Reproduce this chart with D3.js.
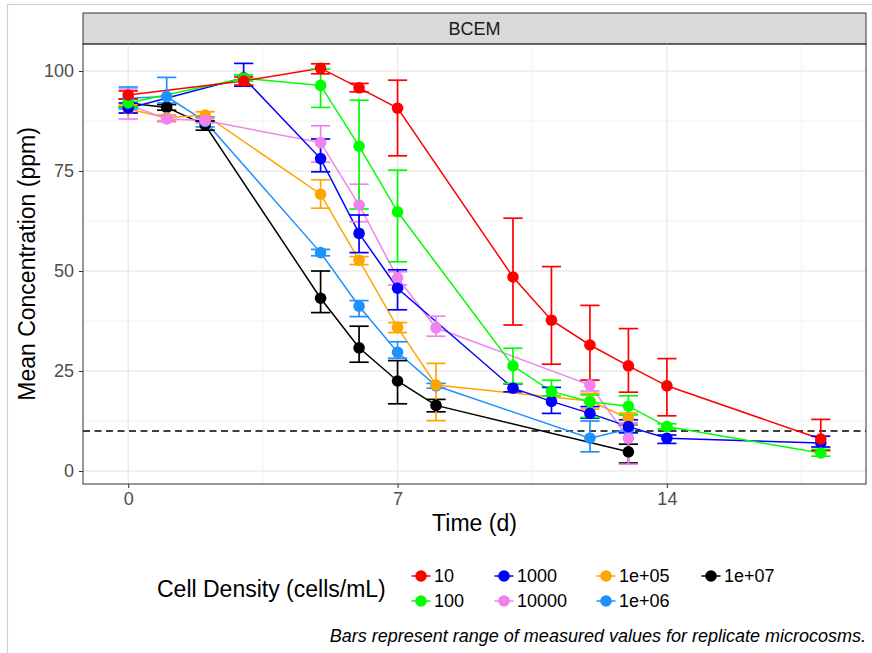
<!DOCTYPE html>
<html>
<head>
<meta charset="utf-8">
<script src="https://cdn.jsdelivr.net/npm/d3@7"></script>
<style>
body { margin: 0; background: #fff; }
svg { display: block; font-family: "Liberation Sans", Arial, sans-serif; }
</style>
</head>
<body>
<div id="chart"></div>
<script>
// legend order of the cell densities and their colours
const densities = ["10", "100", "1000", "10000", "1e+05", "1e+06", "1e+07"];
const colours = ["#ff0000", "#00ff00", "#0000ff", "#ee82ee", "#ffa500", "#1e90ff", "#000000"];

// [day, mean, min, max] for each density
const conc10 = [
    [0, 94, 93, 95], [3, 97.5, 96.5, 98.5], [5, 100.7, 99.3, 101.8], [6, 95.8, 94.8, 96.9],
    [7, 90.7, 78.8, 97.7], [10, 48.5, 36.5, 63.2], [11, 37.7, 26.7, 51.1], [12, 31.5, 22.7, 41.4],
    [13, 26.3, 19.7, 35.6], [14, 21.3, 13.8, 28.1], [18, 8.0, 5.1, 12.9]
];
const conc100 = [
    [0, 92, 91, 93], [3, 98.2, 97.5, 99], [5, 96.4, 90.9, 100.5], [6, 81.2, 65.5, 92.7],
    [7, 64.8, 52.3, 75.2], [10, 26.3, 21.9, 30.7], [11, 19.9, 18.8, 22.7], [12, 17.3, 13.4, 19],
    [13, 16.2, 14, 18.8], [14, 11.1, 10.5, 11.8], [18, 4.5, 3.7, 5.4]
];
const conc1000 = [
    [0, 90.7, 89.5, 92], [3, 98.3, 96.2, 101.9], [5, 78.1, 74.8, 83], [6, 59.4, 54.6, 64],
    [7, 45.7, 40.3, 50.3], [10, 20.7, 19.8, 21.8], [11, 17.4, 14.4, 20.9], [12, 14.4, 13.2, 16.1],
    [13, 11.1, 9.6, 12.8], [14, 8.2, 6.9, 9], [18, 7.0, 6, 8.7]
];
const conc1e4 = [
    [0, 91.6, 88, 95.5], [1, 88, 87.3, 88.8], [2, 87.6, 87, 88.2], [5, 82.1, 77.2, 86.3],
    [6, 66.5, 62.3, 71.7], [7, 48.3, 46.5, 49.8], [8, 35.8, 33.7, 38.7], [12, 21.5, 20, 22.7],
    [13, 8.2, 1.7, 12]
];
const conc1e5 = [
    [0, 90.5, 89.5, 91.5], [1, 88.3, 87.6, 89], [2, 89, 88.2, 89.8], [5, 69.2, 65.7, 72.8],
    [6, 52.7, 51.6, 53.6], [7, 35.9, 34.6, 37.1], [8, 21.5, 12.6, 26.9], [12, 17.5, 15.5, 19.4],
    [13, 13.2, 11.8, 14.5]
];
const conc1e6 = [
    [0, 93.2, 90.5, 96], [1, 93.6, 92, 98.4], [2, 87.4, 86, 88.5], [5, 54.6, 53.8, 55.4],
    [6, 41.2, 38.6, 42.6], [7, 29.7, 28.2, 32.3], [8, 21.3, 20.7, 21.9], [12, 8.2, 4.8, 12.5],
    [13, 10.5, 9.5, 11.5]
];
const conc1e7 = [
    [0, 92, 91, 93], [1, 90.9, 90.2, 91.6], [2, 86.5, 85.2, 87.5], [5, 43.2, 39.6, 50],
    [6, 30.8, 27.2, 36.2], [7, 22.5, 16.8, 27.6], [8, 16.4, 14.8, 17.9], [13, 4.8, 2, 6.7]
];

const xTicks = [0, 7, 14];
const xMinor = [3.5, 10.5, 17.5];
const yTicks = [0, 25, 50, 75, 100];
const yMinor = [12.5, 37.5, 62.5, 87.5];
const threshold = 10;
const panelTitle = "BCEM";

function drawChart() {

    var width = 872,
        height = 653,
        panel = {left: 83, right: 866, top: 44, bottom: 484},
        smallFont = 18,
        bigFont = 23;

    var series = [conc10, conc100, conc1000, conc1e4, conc1e5, conc1e6, conc1e7].map(function(values, i) {
        return {name: densities[i], colour: colours[i], values: values};
    });
    // ggplot put the later groups underneath
    var drawOrder = series.slice().reverse();

    var x = d3.scaleLinear().domain([-1.175, 19.175]).range([panel.left, panel.right]),
        y = d3.scaleLinear().domain([-3.25, 106.75]).range([panel.bottom, panel.top]);

    var svg = d3.select("#chart")
                .append("svg")
                .attr("width", width)
                .attr("height", height);

    svg.append("rect")
        .attr("width", width)
        .attr("height", height)
        .attr("fill", "#fff");

    // outer frame of the screenshot
    svg.append("rect")
        .attr("x", 7.5)
        .attr("y", 4.5)
        .attr("width", 900)
        .attr("height", 700)
        .attr("fill", "none")
        .attr("stroke", "#cfcfcf")
        .attr("stroke-width", 1.2);

    // strip
    svg.append("rect")
        .attr("x", panel.left)
        .attr("y", 13)
        .attr("width", panel.right - panel.left)
        .attr("height", panel.top - 13)
        .attr("fill", "#d9d9d9")
        .attr("stroke", "#333")
        .attr("stroke-width", 1);

    svg.append("text")
        .attr("x", (panel.left + panel.right) / 2)
        .attr("y", (13 + panel.top) / 2)
        .attr("dy", "0.35em")
        .attr("text-anchor", "middle")
        .attr("font-size", smallFont)
        .attr("fill", "#1a1a1a")
        .text(panelTitle);

    // grid
    var grid = svg.append("g").attr("class", "grid");

    grid.selectAll(".minor-y")
        .data(yMinor)
        .enter()
        .append("line")
        .attr("x1", panel.left).attr("x2", panel.right)
        .attr("y1", function(d) { return y(d); })
        .attr("y2", function(d) { return y(d); })
        .attr("stroke", "#ebebeb")
        .attr("stroke-width", 0.7);

    grid.selectAll(".minor-x")
        .data(xMinor)
        .enter()
        .append("line")
        .attr("y1", panel.top).attr("y2", panel.bottom)
        .attr("x1", function(d) { return x(d); })
        .attr("x2", function(d) { return x(d); })
        .attr("stroke", "#ebebeb")
        .attr("stroke-width", 0.7);

    grid.selectAll(".major-y")
        .data(yTicks)
        .enter()
        .append("line")
        .attr("x1", panel.left).attr("x2", panel.right)
        .attr("y1", function(d) { return y(d); })
        .attr("y2", function(d) { return y(d); })
        .attr("stroke", "#ebebeb")
        .attr("stroke-width", 1.4);

    grid.selectAll(".major-x")
        .data(xTicks)
        .enter()
        .append("line")
        .attr("y1", panel.top).attr("y2", panel.bottom)
        .attr("x1", function(d) { return x(d); })
        .attr("x2", function(d) { return x(d); })
        .attr("stroke", "#ebebeb")
        .attr("stroke-width", 1.4);

    // threshold
    svg.append("line")
        .attr("x1", panel.left).attr("x2", panel.right)
        .attr("y1", y(threshold)).attr("y2", y(threshold))
        .attr("stroke", "#000")
        .attr("stroke-width", 1.4)
        .attr("stroke-dasharray", "7,4.5");

    var line = d3.line()
                .x(function(d) { return x(d[0]); })
                .y(function(d) { return y(d[1]); });

    svg.append("g")
        .attr("class", "lines")
        .selectAll("path")
        .data(drawOrder)
        .enter()
        .append("path")
        .attr("d", function(d) { return line(d.values); })
        .attr("fill", "none")
        .attr("stroke", function(d) { return d.colour; })
        .attr("stroke-width", 1.5);

    var bars = svg.append("g")
                .attr("class", "errorbars")
                .selectAll("g")
                .data(drawOrder)
                .enter()
                .append("g")
                .attr("stroke", function(d) { return d.colour; })
                .attr("stroke-width", 1.7)
                .selectAll("g")
                .data(function(d) { return d.values; })
                .enter()
                .append("g");

    bars.append("line")
        .attr("x1", function(d) { return x(d[0]); })
        .attr("x2", function(d) { return x(d[0]); })
        .attr("y1", function(d) { return y(d[2]); })
        .attr("y2", function(d) { return y(d[3]); });

    bars.append("line")
        .attr("x1", function(d) { return x(d[0] - 0.25); })
        .attr("x2", function(d) { return x(d[0] + 0.25); })
        .attr("y1", function(d) { return y(d[2]); })
        .attr("y2", function(d) { return y(d[2]); });

    bars.append("line")
        .attr("x1", function(d) { return x(d[0] - 0.25); })
        .attr("x2", function(d) { return x(d[0] + 0.25); })
        .attr("y1", function(d) { return y(d[3]); })
        .attr("y2", function(d) { return y(d[3]); });

    svg.append("g")
        .attr("class", "points")
        .selectAll("g")
        .data(drawOrder)
        .enter()
        .append("g")
        .attr("fill", function(d) { return d.colour; })
        .selectAll("circle")
        .data(function(d) { return d.values; })
        .enter()
        .append("circle")
        .attr("cx", function(d) { return x(d[0]); })
        .attr("cy", function(d) { return y(d[1]); })
        .attr("r", 5.8);

    // panel border
    svg.append("rect")
        .attr("x", panel.left)
        .attr("y", panel.top)
        .attr("width", panel.right - panel.left)
        .attr("height", panel.bottom - panel.top)
        .attr("fill", "none")
        .attr("stroke", "#333")
        .attr("stroke-width", 1);

    // axes
    var yAxis = svg.append("g")
                .attr("transform", "translate(" + panel.left + ",0)")
                .call(d3.axisLeft(y).tickValues(yTicks).tickSize(4).tickPadding(5));

    var xAxis = svg.append("g")
                .attr("transform", "translate(0," + panel.bottom + ")")
                .call(d3.axisBottom(x).tickValues(xTicks).tickSize(4).tickPadding(4));

    [yAxis, xAxis].forEach(function(axis) {
        axis.select(".domain").remove();
        axis.selectAll(".tick line").attr("stroke", "#333").attr("stroke-width", 1);
        axis.selectAll(".tick text")
            .attr("fill", "#4d4d4d")
            .attr("font-size", smallFont)
            .attr("font-family", "Liberation Sans, Arial, sans-serif");
    });

    svg.append("text")
        .attr("x", (panel.left + panel.right) / 2)
        .attr("y", 531)
        .attr("text-anchor", "middle")
        .attr("font-size", bigFont)
        .text("Time (d)");

    svg.append("text")
        .attr("transform", "translate(27," + ((panel.top + panel.bottom) / 2) + ") rotate(-90)")
        .attr("dy", "0.35em")
        .attr("text-anchor", "middle")
        .attr("font-size", bigFont)
        .text("Mean Concentration (ppm)");

    // legend, filled column by column in two rows
    var legendColX = [421, 504, 606, 711],
        legendRowY = [576, 601];

    svg.append("text")
        .attr("x", 157)
        .attr("y", 589)
        .attr("dy", "0.35em")
        .attr("font-size", bigFont)
        .text("Cell Density (cells/mL)");

    var keys = svg.append("g")
                .attr("class", "legend")
                .selectAll("g")
                .data(series)
                .enter()
                .append("g")
                .attr("transform", function(d, i) {
                    return "translate(" + legendColX[Math.floor(i / 2)] + "," + legendRowY[i % 2] + ")";
                });

    keys.append("line")
        .attr("x1", -9.5).attr("x2", 9.5)
        .attr("stroke", function(d) { return d.colour; })
        .attr("stroke-width", 1.5);

    keys.append("circle")
        .attr("r", 5.8)
        .attr("fill", function(d) { return d.colour; });

    keys.append("text")
        .attr("x", 13)
        .attr("dy", "0.35em")
        .attr("font-size", smallFont)
        .text(function(d) { return d.name; });

    svg.append("text")
        .attr("x", panel.right)
        .attr("y", 642)
        .attr("text-anchor", "end")
        .attr("font-size", smallFont)
        .attr("font-style", "italic")
        .text("Bars represent range of measured values for replicate microcosms.");
}

drawChart();
</script>
</body>
</html>
